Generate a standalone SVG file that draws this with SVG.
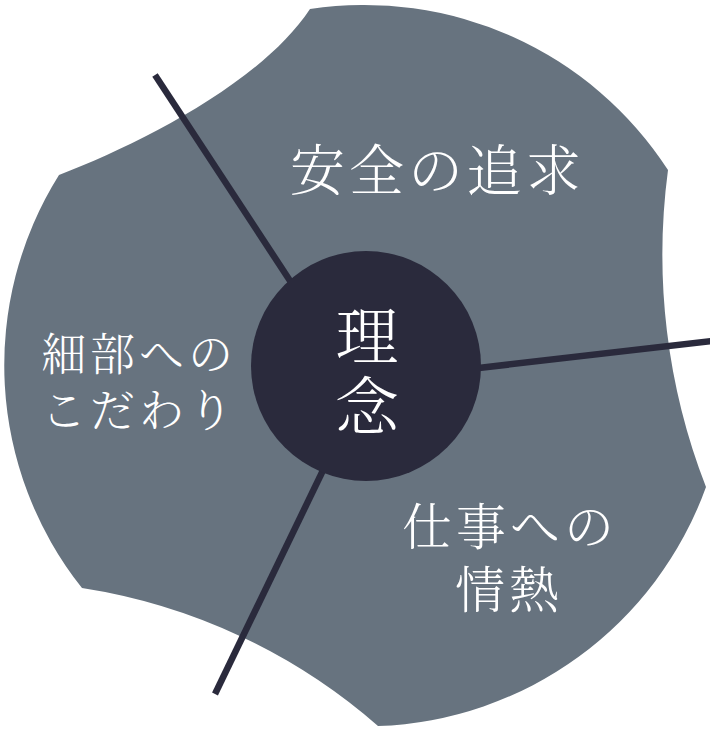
<svg xmlns="http://www.w3.org/2000/svg" width="710" height="730" viewBox="0 0 710 730">
<style>
.blob{fill:#67737f;}
.hub{fill:#2a2a3c;}
.spoke{stroke:#2a2a3c;stroke-width:6.5;stroke-linecap:butt;fill:none;}
.t{fill:#ffffff;font-family:"Noto Serif CJK JP","Noto Sans CJK JP",serif;font-weight:300;}
</style>
<g id="background">
<path class="blob" d="M310,9 A362,362 0 0 1 668,170 A640,640 0 0 0 706,487 A362,362 0 0 1 378,726 A586,586 0 0 0 82,588 A358,358 0 0 1 59,175 C140,144 262,82 310,9 Z"/>
</g>
<g id="connectors">
<line class="spoke" x1="155" y1="75" x2="300" y2="296"/>
<line class="spoke" x1="470" y1="369" x2="712" y2="341"/>
<line class="spoke" x1="328" y1="460" x2="215" y2="694"/>
</g>
<g id="node-safety">
<text class="t" x="290" y="190" font-size="55" letter-spacing="4">安全の追求</text>
</g>
<g id="node-detail">
<text class="t" x="41" y="371" font-size="45" letter-spacing="4">細部への</text>
<text class="t" x="41" y="427" font-size="45" letter-spacing="4">こだわり</text>
</g>
<g id="node-passion">
<text class="t" x="402" y="545" font-size="50" letter-spacing="4">仕事への</text>
<text class="t" x="455" y="608" font-size="50" letter-spacing="4">情熱</text>
</g>
<g id="node-philosophy">
<circle class="hub" cx="366" cy="366" r="115"/>
<text class="t" x="367" y="359" font-size="63" text-anchor="middle">理</text>
<text class="t" x="367" y="429" font-size="63" text-anchor="middle">念</text>
</g>
</svg>
